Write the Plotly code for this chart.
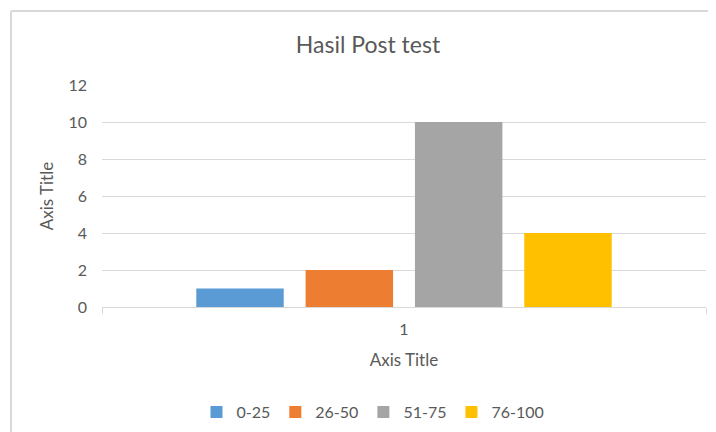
import plotly.graph_objects as go

categories = ["1"]
series_names = ["0-25", "26-50", "51-75", "76-100"]
series_values = [[1], [2], [10], [4]]
colors = ["#5B9BD5", "#ED7D31", "#A5A5A5", "#FFC000"]
y_ticks = [0, 2, 4, 6, 8, 10, 12]

FONT = "Lato, 'Open Sans', sans-serif"
TXT = "#595959"
GRID = "#D9D9D9"

# page body has an 8px margin, so the figure is drawn 8px smaller and
# all reference pixel positions are shifted by OFF
OFF = 8
W, H = 716 - OFF, 432 - OFF
L, R, T, B = 102 - OFF, 10, 85 - OFF, 125
pw, ph = W - L - R, H - T - B

def px_x(x):
    return (x - OFF - L) / pw

def px_y(y):
    return (H - B - (y - OFF)) / ph

fig = go.Figure()
for name, vals, col in zip(series_names, series_values, colors):
    fig.add_trace(go.Bar(
        x=categories, y=vals, name=name,
        marker=dict(color=col, line=dict(width=0)),
    ))

fig.update_layout(
    width=W, height=H,
    margin=dict(l=L, r=R, t=T, b=B, autoexpand=False),
    paper_bgcolor="white", plot_bgcolor="white",
    font=dict(family=FONT, color=TXT, size=15),
    barmode="group", bargap=0.276, bargroupgap=0.2,
    title=dict(text="Hasil Post test", x=(368 - OFF) / W, xanchor="center",
               xref="container", y=1 - (45 - OFF) / H, yanchor="middle",
               yref="container",
               font=dict(family=FONT, size=23, color=TXT)),
    xaxis=dict(type="category", showgrid=False, showline=True,
               linecolor=GRID, linewidth=1, ticks="outside",
               tickson="boundaries", ticklen=6, tickcolor=GRID,
               tickfont=dict(size=16, color=TXT), ticklabelstandoff=8,
               title=dict(text="Axis Title", standoff=16,
                          font=dict(size=17, color=TXT)),
               zeroline=False, fixedrange=True),
    yaxis=dict(range=[0, 12], tickvals=y_ticks, showgrid=True,
               gridcolor=GRID, gridwidth=1, zeroline=False, showline=False,
               ticks="", tickfont=dict(size=16, color=TXT),
               ticklabelstandoff=14,
               title=dict(text="Axis Title", standoff=10,
                          font=dict(size=17, color=TXT)),
               fixedrange=True),
    legend=dict(orientation="h", x=px_x(373), xanchor="center",
                y=px_y(412), yanchor="middle",
                font=dict(size=16, color=TXT), itemwidth=30,
                traceorder="normal", bgcolor="rgba(0,0,0,0)"),
    showlegend=True,
)

# chart area border (top and left edges visible in reference)
fig.add_shape(type="line", xref="paper", yref="paper",
              x0=px_x(11), x1=px_x(716 + 5), y0=px_y(11), y1=px_y(11),
              line=dict(color=GRID, width=2), layer="below")
fig.add_shape(type="line", xref="paper", yref="paper",
              x0=px_x(11), x1=px_x(11), y0=px_y(11), y1=px_y(432 + 5),
              line=dict(color=GRID, width=2), layer="below")

fig.write_html("out.html")
